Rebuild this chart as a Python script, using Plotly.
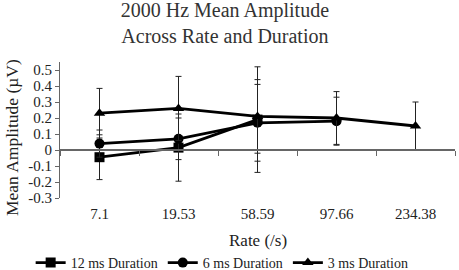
import plotly.graph_objects as go

rates = ["7.1", "19.53", "58.59", "97.66", "234.38"]
ms12 = [-0.045, 0.015, 0.19, None, None]
ms12_err = [0.14, 0.21, 0.33, None, None]
ms6 = [0.04, 0.07, 0.17, 0.18, None]
ms6_err = [0.085, 0.13, 0.24, 0.15, None]
ms3 = [0.23, 0.26, 0.21, 0.20, 0.15]
ms3_err = [0.155, 0.2, 0.23, 0.165, 0.15]

series = [
    ("12 ms Duration", ms12, ms12_err, "square"),
    ("6 ms Duration", ms6, ms6_err, "circle"),
    ("3 ms Duration", ms3, ms3_err, "triangle-up"),
]

font = "Liberation Serif, Times New Roman, serif"
fig = go.Figure()
for name, vals, errs, sym in series:
    fig.add_trace(go.Scatter(
        x=rates, y=vals, name=name, mode="lines+markers",
        line=dict(color="black", width=2.8),
        marker=dict(symbol=sym, size=10, color="black"),
        error_y=dict(type="data", array=errs, visible=True, color="#222", thickness=1, width=3),
        connectgaps=False,
    ))
fig.add_trace(go.Scatter(x=rates, y=[None]*len(rates), xaxis="x2", showlegend=False, hoverinfo="skip"))

ymin, ymax = -0.3, 0.55
fig.update_layout(
    width=459, height=270,
    margin=dict(l=60, r=4, t=62, b=72, autoexpand=False),
    paper_bgcolor="white", plot_bgcolor="white",
    font=dict(family=font, size=15, color="#222"),
    title=dict(text="2000 Hz Mean Amplitude<br>Across Rate and Duration", x=0.49, xanchor="center",
               xref="container", yref="container", y=0.937, yanchor="middle",
               font=dict(family=font, size=20, color="#333")),
    xaxis=dict(type="category", categoryorder="array", categoryarray=rates, range=[-0.5, 4.5],
               showline=False, showgrid=False, ticks="outside", ticklen=2, tickcolor="rgba(0,0,0,0)",
               zeroline=False, automargin=False,
               tickfont=dict(size=15)),
    xaxis2=dict(type="category", categoryorder="array", categoryarray=rates, range=[-0.5, 4.5],
                overlaying="x", anchor="free", position=(0 - ymin) / (ymax - ymin),
                showline=True, linecolor="#666", linewidth=1.5, ticks="outside", tickson="boundaries",
                ticklen=5, tickcolor="#666", showticklabels=False, showgrid=False, matches="x"),
    yaxis=dict(range=[ymin, ymax], tickvals=[-0.3, -0.2, -0.1, 0, 0.1, 0.2, 0.3, 0.4, 0.5],
               ticktext=["-0.3", "-0.2", "-0.1", "0", "0.1", "0.2", "0.3", "0.4", "0.5"],
               showline=True, linecolor="#666", linewidth=1, ticks="outside", ticklen=4, tickcolor="#666",
               showgrid=False, zeroline=False, automargin=False,
               tickfont=dict(size=15)),
    annotations=[
        dict(text="Mean Amplitude (µV)", textangle=-90, xref="paper", yref="paper",
             x=0, xanchor="center", xshift=-48, y=0.441, yanchor="middle",
             showarrow=False, font=dict(size=17.5, color="#222")),
        dict(text="Rate (/s)", xref="paper", yref="paper", x=0.5, xanchor="center",
             y=-0.309, yanchor="middle", showarrow=False, font=dict(size=17, color="#222")),
    ],
    legend=dict(orientation="h", x=0.484, xanchor="center", xref="container", yref="paper",
                y=-0.478, yanchor="middle",
                font=dict(size=14, color="#222"), itemwidth=30, bgcolor="rgba(0,0,0,0)"),
)
fig.write_html("out.html", config={"displayModeBar": False},
               post_script="document.body.style.margin='0';")
